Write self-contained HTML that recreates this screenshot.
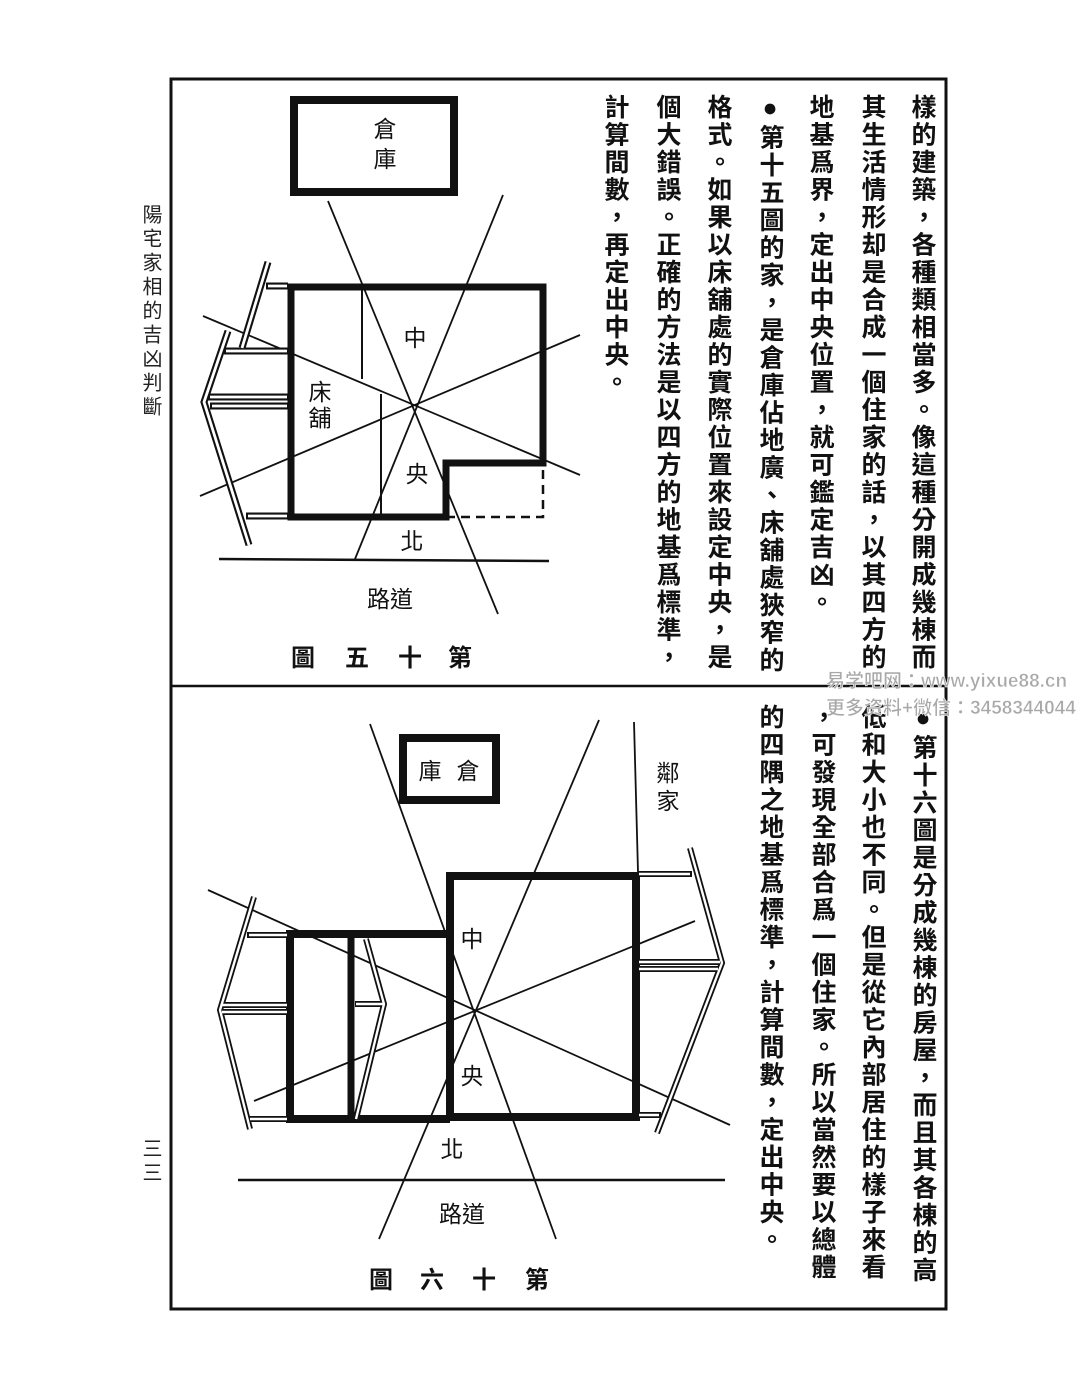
<!DOCTYPE html>
<html><head><meta charset="utf-8"><style>
html,body{margin:0;padding:0;background:#fff;}
body{width:1080px;height:1383px;position:relative;overflow:hidden;font-family:"Liberation Sans","Noto Sans CJK TC",sans-serif;}
.col{position:absolute;writing-mode:vertical-rl;font-size:25px;letter-spacing:2.5px;line-height:28px;font-weight:bold;color:#111;white-space:nowrap;}
.wm{position:absolute;font-size:19px;color:#a8a8a8;font-weight:bold;white-space:nowrap;-webkit-text-stroke:0.5px #fff;}
.side{position:absolute;writing-mode:vertical-rl;font-size:20px;letter-spacing:4px;line-height:22px;color:#222;}
</style></head><body>
<svg width="1080" height="1383" style="position:absolute;left:0;top:0" xmlns="http://www.w3.org/2000/svg">
<g fill="none" stroke="#111">
<rect x="171" y="79" width="775" height="1230" stroke-width="3"/>
<line x1="171" y1="686" x2="946" y2="686" stroke-width="2.5"/>
<!-- TOP DIAGRAM -->
<rect x="294" y="100" width="160" height="92" stroke-width="8"/>
<path d="M291,287 L543,287 L543,463 L446,463 L446,517 L291,517 Z" stroke-width="7"/>
<path d="M446,517 L543,517 L543,463" stroke-width="2.5" stroke-dasharray="9,6"/>
<line x1="362" y1="287" x2="362" y2="379" stroke-width="2"/>
<line x1="381" y1="394" x2="381" y2="517" stroke-width="2"/>
<g stroke-width="1.8">
<line x1="328" y1="201" x2="498" y2="614"/>
<line x1="503" y1="195" x2="355" y2="559"/>
<line x1="203" y1="316" x2="580" y2="475"/>
<line x1="200" y1="496" x2="580" y2="335"/>
<line x1="219" y1="559" x2="549" y2="561" stroke-width="2.5"/>
</g>
<g stroke-width="7"><path d="M268,262 L242,348"/><path d="M228,331 L204,402 L249,545"/>
<path d="M266,286 L288,286 M224,351 L288,351 M208,397 L288,397 M210,406 L288,406 M246,516 L288,516"/></g>
<g stroke-width="2.8" stroke="#fff"><path d="M268,262 L242,348"/><path d="M228,331 L204,402 L249,545"/>
<path d="M268,286 L287,286 M226,351 L287,351 M210,397 L287,397 M212,406 L287,406 M248,516 L287,516"/></g>
<!-- BOTTOM DIAGRAM -->
<rect x="403" y="738" width="93" height="62" stroke-width="8"/>
<rect x="450" y="876" width="186" height="241" stroke-width="8"/>
<path d="M450,934 L290,934 L290,1119 L450,1119" stroke-width="8"/>
<line x1="351" y1="934" x2="351" y2="1119" stroke-width="7"/>
<g stroke-width="1.8">
<line x1="370" y1="724" x2="556" y2="1239"/>
<line x1="599" y1="720" x2="379" y2="1239"/>
<line x1="208" y1="890" x2="730" y2="1125"/>
<line x1="254" y1="1101" x2="695" y2="921"/>
<line x1="634" y1="722" x2="638" y2="872"/>
<line x1="238" y1="1180" x2="725" y2="1180" stroke-width="2.5"/>
</g>
<g stroke-width="6">
<path d="M254,897 L220,1010 L250,1129"/><path d="M366,939 L384,1004 L356,1119"/>
<path d="M690,848 L722,963 L657,1133"/>
<path d="M247,935 L288,935 M220,1005 L288,1005 M220,1012 L288,1012 M248,1119 L288,1119 M355,1004 L384,1004 M638,874 L692,874 M638,962 L722,962 M638,969 L720,969 M638,1115 L661,1115"/>
</g>
<g stroke-width="2.4" stroke="#fff">
<path d="M254,897 L220,1010 L250,1129"/><path d="M366,939 L384,1004 L356,1119"/>
<path d="M690,848 L722,963 L657,1133"/>
<path d="M249,935 L287,935 M222,1005 L287,1005 M222,1012 L287,1012 M250,1119 L287,1119 M356,1004 L383,1004 M639,874 L690,874 M639,962 L720,962 M639,969 L718,969 M639,1115 L659,1115"/>
</g>
</g>
<g fill="#111" font-family="Liberation Sans, Noto Sans CJK TC, sans-serif" font-size="23" text-anchor="middle">
<text x="385" y="137">倉</text><text x="385" y="167">庫</text>
<text x="415" y="346">中</text>
<text x="320" y="400">床</text><text x="320" y="426">舖</text>
<text x="417" y="482">央</text>
<text x="412" y="549">北</text>
<text x="390" y="607">路道</text>
<text x="430" y="779">庫</text><text x="468" y="779">倉</text>
<text x="472" y="947">中</text>
<text x="472" y="1084">央</text>
<text x="452" y="1157">北</text>
<text x="462" y="1222">路道</text>
<text x="668" y="781">鄰</text><text x="668" y="809">家</text>
<g font-size="24" font-weight="bold">
<text x="303" y="666">圖</text><text x="357" y="666">五</text><text x="410" y="666">十</text><text x="460" y="666">第</text>
<text x="381" y="1288">圖</text><text x="432" y="1288">六</text><text x="484" y="1288">十</text><text x="537" y="1288">第</text>
</g>
</g>
</svg>
<div class="side" style="left:139px;top:204px;">陽宅家相的吉凶判斷</div>
<div class="side" style="left:139px;top:1138px;">三三</div>
<div class="col" style="left:908px;top:94px;">樣的建築，各種類相當多。像這種分開成幾棟而</div>
<div class="col" style="left:858px;top:94px;">其生活情形却是合成一個住家的話，以其四方的</div>
<div class="col" style="left:806px;top:94px;">地基爲界，定出中央位置，就可鑑定吉凶。</div>
<div class="col" style="left:756px;top:94px;">●第十五圖的家，是倉庫佔地廣、床舖處狹窄的</div>
<div class="col" style="left:704px;top:94px;">格式。如果以床舖處的實際位置來設定中央，是</div>
<div class="col" style="left:653px;top:94px;">個大錯誤。正確的方法是以四方的地基爲標準，</div>
<div class="col" style="left:601px;top:94px;">計算間數，再定出中央。</div>
<div class="col" style="left:909px;top:704px;">●第十六圖是分成幾棟的房屋，而且其各棟的高</div>
<div class="col" style="left:858px;top:704px;">低和大小也不同。但是從它內部居住的樣子來看</div>
<div class="col" style="left:808px;top:704px;">，可發現全部合爲一個住家。所以當然要以總體</div>
<div class="col" style="left:756px;top:704px;">的四隅之地基爲標準，計算間數，定出中央。</div>
<div class="wm" style="left:826px;top:666px;">易学吧网：www.yixue88.cn</div>
<div class="wm" style="left:826px;top:693px;">更多资料+微信：3458344044</div>
</body></html>
